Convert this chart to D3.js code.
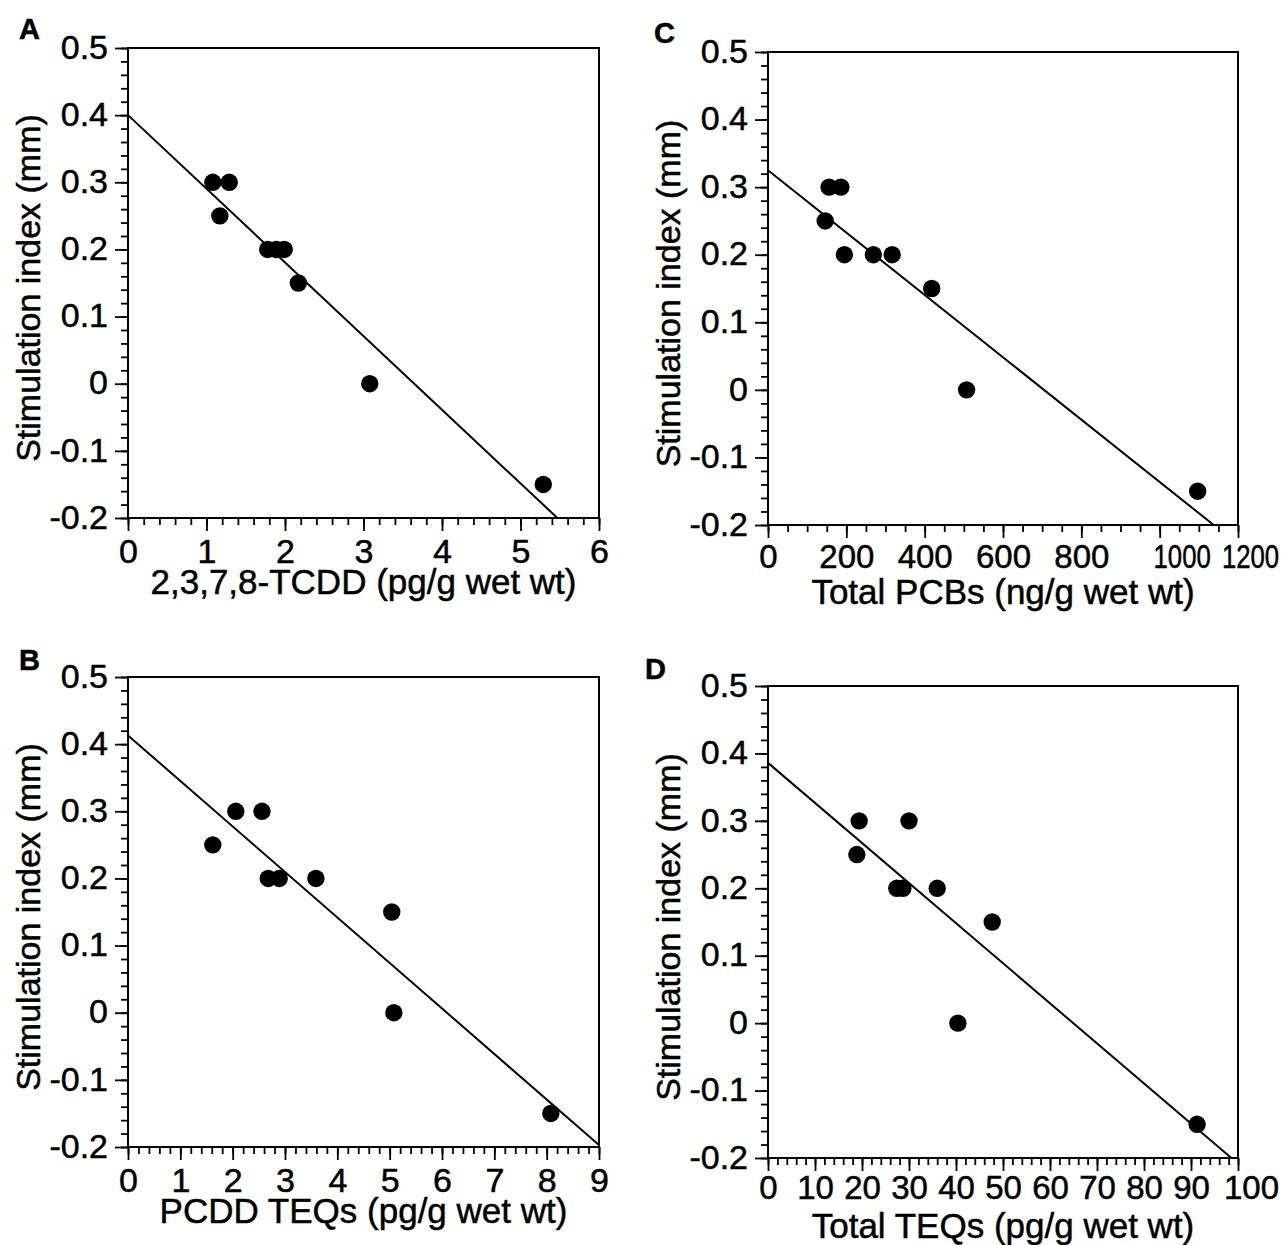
<!DOCTYPE html>
<html>
<head>
<meta charset="utf-8">
<script src="https://cdn.jsdelivr.net/npm/d3@7"></script>
<style>
  body { margin: 0; background: #fff; }
  svg text { font-family: "Liberation Sans", Arial, Helvetica, sans-serif; fill: #000; stroke: #000; stroke-width: 0.5px; }
</style>
</head>
<body>
<div id="chart"></div>
<script>
// y axis shared by all four panels
const yTicks = [0.5, 0.4, 0.3, 0.2, 0.1, 0, -0.1, -0.2];
const yTitle = "Stimulation index (mm)";

// A: 2,3,7,8-TCDD
const aX = [1.08, 1.29, 1.17, 1.78, 1.89, 1.99, 2.17, 3.08, 5.29];
const aY = [0.3, 0.3, 0.25, 0.2, 0.2, 0.2, 0.15, 0, -0.15];
const aLine = [[0, 0.40], [5.47, -0.2]];
const aTicks = [0, 1, 2, 3, 4, 5, 6];

// B: PCDD TEQs
const bX = [1.62, 2.06, 2.56, 2.68, 2.89, 3.59, 5.04, 5.08, 8.08];
const bY = [0.25, 0.3, 0.3, 0.2, 0.2, 0.2, 0.15, 0, -0.15];
const bLine = [[0, 0.413], [9, -0.197]];
const bTicks = [0, 1, 2, 3, 4, 5, 6, 7, 8, 9];

// C: total PCBs
const cX = [156, 186, 146, 195, 269, 317, 418, 507, 1097];
const cY = [0.3, 0.3, 0.25, 0.2, 0.2, 0.2, 0.15, 0, -0.15];
const cLine = [[0, 0.325], [1138, -0.2]];
const cTicks = [0, 200, 400, 600, 800, 1000, 1200];

// D: total TEQs
const dX = [19.4, 18.9, 30, 27.4, 28.7, 36, 47.7, 40.4, 91.3];
const dY = [0.3, 0.25, 0.3, 0.2, 0.2, 0.2, 0.15, 0, -0.15];
const dLine = [[0, 0.386], [98.6, -0.2]];
const dTicks = [0, 10, 20, 30, 40, 50, 60, 70, 80, 90, 100];

const panels = [
  {id: "A", left: 128, top: 48, w: 471, h: 470, xs: aX, ys: aY, line: aLine, ticks: aTicks, minor: 0.2,
   title: "2,3,7,8-TCDD (pg/g wet wt)", lx: 19, ly: 39, tickBase: 45, titleBase: 76, tickFont: 34, shift: {}},
  {id: "B", left: 128, top: 677, w: 471, h: 470, xs: bX, ys: bY, line: bLine, ticks: bTicks, minor: 0.2,
   title: "PCDD TEQs (pg/g wet wt)", lx: 19, ly: 670, tickBase: 45, titleBase: 76, tickFont: 34, shift: {}},
  {id: "C", left: 768, top: 52, w: 470, h: 473, xs: cX, ys: cY, line: cLine, ticks: cTicks, minor: 50,
   title: "Total PCBs (ng/g wet wt)", lx: 654, ly: 43, tickBase: 43, titleBase: 79, tickFont: 33, shift: {1000: 22, 1200: 12}},
  {id: "D", left: 768, top: 686, w: 470, h: 472, xs: dX, ys: dY, line: dLine, ticks: dTicks, minor: 2,
   title: "Total TEQs (pg/g wet wt)", lx: 645, ly: 679, tickBase: 41, titleBase: 80, tickFont: 33, shift: {100: 13}}
];

const svg = d3.select("#chart").append("svg")
  .attr("width", 1286)
  .attr("height", 1245);

const fmtY = d => d === 0 ? "0" : (d < 0 ? "-" : "") + Math.abs(d).toFixed(1);

panels.forEach(p => {
  const g = svg.append("g").attr("transform", "translate(" + p.left + "," + p.top + ")");
  const xMax = p.ticks[p.ticks.length - 1];

  const x = d3.scaleLinear().domain([0, xMax]).range([0, p.w]);
  const y = d3.scaleLinear().domain([-0.2, 0.5]).range([p.h, 0]);

  // minor ticks
  const xMinor = d3.range(0, xMax + p.minor / 2, p.minor);
  const yMinor = d3.range(-0.2, 0.5001, 0.02);

  g.append("g")
    .attr("transform", "translate(0," + p.h + ")")
    .call(d3.axisBottom(x).tickValues(xMinor).tickSize(7).tickSizeOuter(0).tickFormat(""))
    .call(a => a.select(".domain").remove());
  g.append("g")
    .call(d3.axisLeft(y).tickValues(yMinor).tickSize(7).tickSizeOuter(0).tickFormat(""))
    .call(a => a.select(".domain").remove());

  // major ticks with labels
  const xa = g.append("g")
    .attr("transform", "translate(0," + p.h + ")")
    .call(d3.axisBottom(x).tickValues(p.ticks).tickSize(13).tickSizeOuter(0).tickFormat(d3.format("d")));
  xa.select(".domain").remove();
  xa.selectAll("text")
    .style("font-size", p.tickFont + "px")
    .attr("y", p.tickBase)
    .attr("dy", null)
    // the four-digit labels are squeezed and nudged right in the original
    .attr("transform", d => "translate(" + (p.shift[d] || 0) + ",0)" + (String(d).length > 3 ? " scale(0.78,1)" : ""));

  const ya = g.append("g")
    .call(d3.axisLeft(y).tickValues(yTicks).tickSize(13).tickSizeOuter(0).tickPadding(7).tickFormat(fmtY));
  ya.select(".domain").remove();
  ya.selectAll("text")
    .style("font-size", "34px")
    .attr("dy", "0.3em");

  g.selectAll(".tick line").attr("stroke", "#000").attr("stroke-width", 1.8);

  // frame
  g.append("rect")
    .attr("width", p.w)
    .attr("height", p.h)
    .attr("fill", "none")
    .attr("stroke", "#000")
    .attr("stroke-width", 2);

  // regression line
  g.append("path")
    .datum(p.line)
    .attr("fill", "none")
    .attr("stroke", "#000")
    .attr("stroke-width", 2)
    .attr("d", d3.line().x(d => x(d[0])).y(d => y(d[1])));

  // points
  g.append("g")
    .selectAll("circle")
    .data(p.xs.map((v, i) => [v, p.ys[i]]))
    .enter()
    .append("circle")
      .attr("cx", d => x(d[0]))
      .attr("cy", d => y(d[1]))
      .attr("r", 8.7)
      .attr("fill", "#000");

  // axis titles
  g.append("text")
    .attr("x", p.w / 2)
    .attr("y", p.h + p.titleBase)
    .attr("text-anchor", "middle")
    .style("font-size", "35px")
    .text(p.title);

  g.append("text")
    .attr("transform", "rotate(-90)")
    .attr("x", -(p.h / 2 + 5))
    .attr("y", -88)
    .attr("text-anchor", "middle")
    .style("font-size", "34px")
    .text(yTitle);

  // panel letter
  svg.append("text")
    .attr("x", p.lx)
    .attr("y", p.ly)
    .style("font-size", "29px")
    .style("font-weight", "bold")
    .text(p.id);
});
</script>
</body>
</html>
